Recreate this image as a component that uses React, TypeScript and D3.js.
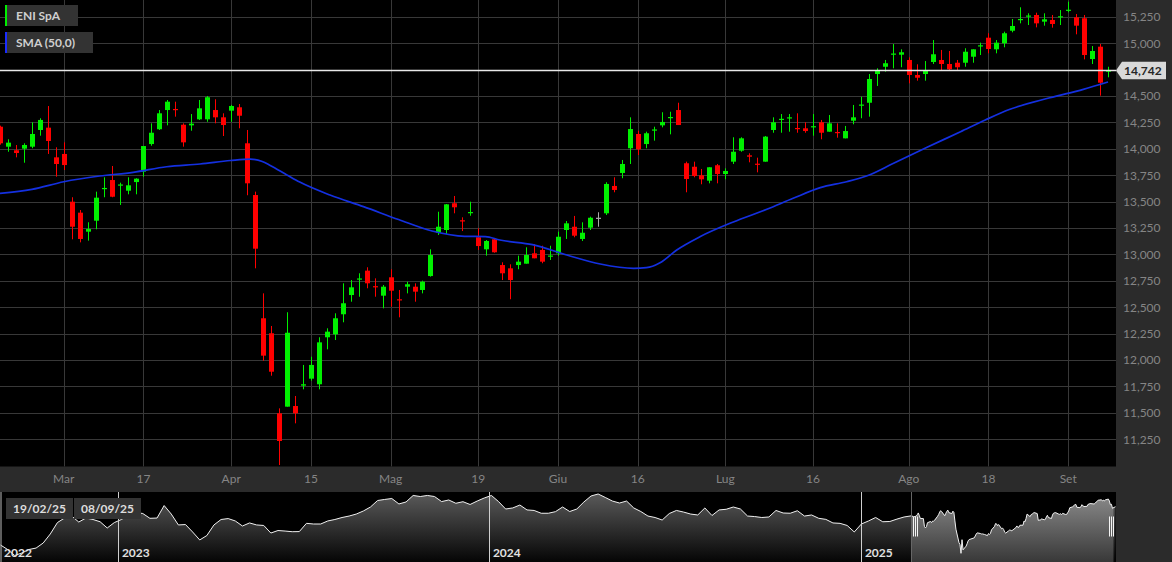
import React from "react";
import * as d3 from "d3";

// ---------- DATA ----------
const startDate = "2025-02-19";
const endDate = "2025-09-08";
const holidays = ["2025-04-18", "2025-04-21", "2025-05-01", "2025-08-15"];

const opens = [
  14.21, 14.021, 13.987, 14.002, 14.021, 14.179, 14.201, 13.92, 13.952, 13.5,
  13.396, 13.216, 13.32, 13.62, 13.705, 13.653, 13.604, 13.686, 13.784, 14.046,
  14.186, 14.368, 14.378, 14.229, 14.223, 14.28, 14.28, 14.368, 14.299, 14.362,
  14.394, 14.053, 13.563, 12.396, 12.254, 11.496, 11.559, 11.565, 11.758, 11.824,
  11.771, 12.216, 12.244, 12.434, 12.616, 12.763, 12.847, 12.7, 12.61, 12.784,
  12.576, 12.695, 12.695, 12.664, 12.796, 13.206, 13.232, 13.485, 13.324, 13.396,
  13.163, 13.049, 13.144, 12.9, 12.869, 12.9, 12.913, 13.011, 13.043, 12.981,
  13.011, 13.232, 13.263, 13.147, 13.254, 13.348, 13.39, 13.649, 13.772, 14.006,
  14.141, 14.046, 14.174, 14.223, 14.293, 14.368, 13.864, 13.831, 13.75, 13.699,
  13.845, 13.762, 13.879, 13.983, 13.939, 13.86, 13.879, 14.179, 14.275, 14.291,
  14.198, 14.195, 14.205, 14.252, 14.163, 14.16, 14.1, 14.267, 14.411, 14.437,
  14.709, 14.778, 14.894, 14.892, 14.842, 14.7, 14.709, 14.823, 14.842, 14.804,
  14.816, 14.816, 14.873, 14.974, 15.053, 14.943, 15.0, 15.119, 15.222, 15.258,
  15.268, 15.205, 15.221, 15.249, 15.312, 15.246, 15.237, 14.851, 14.968, 14.73,
];
const highs = [
  14.22, 14.091, 14.037, 14.053, 14.252, 14.29, 14.406, 14.015, 14.062, 13.542,
  13.421, 13.305, 13.595, 13.731, 13.838, 13.68, 13.731, 13.722, 14.027, 14.242,
  14.368, 14.463, 14.447, 14.242, 14.33, 14.463, 14.501, 14.47, 14.337, 14.416,
  14.425, 14.179, 13.595, 12.632, 12.323, 11.543, 12.453, 11.66, 11.954, 12.032,
  12.216, 12.301, 12.443, 12.727, 12.758, 12.822, 12.879, 12.774, 12.711, 12.86,
  12.664, 12.742, 12.727, 12.752, 13.049, 13.405, 13.478, 13.554, 13.352, 13.5,
  13.248, 13.137, 13.153, 12.926, 12.907, 12.989, 13.068, 13.099, 13.083, 13.083,
  13.216, 13.317, 13.365, 13.305, 13.358, 13.4, 13.684, 13.731, 13.895, 14.299,
  14.172, 14.163, 14.21, 14.347, 14.352, 14.437, 13.879, 13.879, 13.81, 13.826,
  13.857, 13.816, 14.11, 14.11, 13.958, 13.917, 14.122, 14.299, 14.33, 14.33,
  14.337, 14.252, 14.33, 14.274, 14.321, 14.242, 14.217, 14.416, 14.494, 14.709,
  14.763, 14.842, 14.993, 14.943, 14.867, 14.801, 14.832, 15.031, 14.937, 14.927,
  14.842, 14.953, 14.943, 15.006, 15.095, 15.031, 15.11, 15.23, 15.341, 15.284,
  15.29, 15.284, 15.268, 15.315, 15.394, 15.277, 15.268, 14.974, 14.993, 14.778,
];
const lows = [
  14.04, 13.973, 13.92, 13.869, 14.006, 14.125, 13.952, 13.737, 13.8, 13.144,
  13.115, 13.131, 13.239, 13.542, 13.542, 13.469, 13.57, 13.57, 13.737, 14.03,
  14.179, 14.223, 14.305, 14.021, 14.172, 14.274, 14.257, 14.242, 14.122, 14.257,
  14.195, 13.561, 12.869, 11.994, 11.852, 11.006, 11.559, 11.401, 11.723, 11.805,
  11.723, 12.102, 12.19, 12.358, 12.553, 12.6, 12.68, 12.6, 12.49, 12.506,
  12.405, 12.632, 12.553, 12.632, 12.79, 13.185, 13.194, 13.39, 13.222, 13.367,
  13.043, 12.989, 13.017, 12.758, 12.576, 12.86, 12.913, 12.964, 12.917, 12.948,
  12.989, 13.147, 13.163, 13.128, 13.232, 13.263, 13.374, 13.589, 13.722, 13.857,
  13.942, 14.006, 14.078, 14.204, 14.138, 14.226, 13.589, 13.731, 13.665, 13.674,
  13.674, 13.712, 13.857, 13.973, 13.873, 13.778, 13.879, 14.153, 14.153, 14.163,
  14.153, 14.153, 14.125, 14.091, 14.163, 14.106, 14.1, 14.233, 14.29, 14.305,
  14.596, 14.731, 14.763, 14.773, 14.621, 14.646, 14.646, 14.804, 14.747, 14.747,
  14.747, 14.778, 14.816, 14.889, 14.905, 14.905, 14.962, 15.104, 15.189, 15.173,
  15.151, 15.167, 15.148, 15.173, 15.294, 15.085, 14.848, 14.804, 14.504, 14.678,
];
const closes = [
  14.053, 14.059, 13.961, 14.037, 14.141, 14.274, 14.075, 13.857, 13.847, 13.263,
  13.147, 13.241, 13.538, 13.63, 13.547, 13.663, 13.655, 13.718, 14.027, 14.153,
  14.337, 14.447, 14.371, 14.062, 14.239, 14.384, 14.489, 14.299, 14.226, 14.406,
  14.314, 13.674, 13.055, 12.042, 11.89, 11.234, 12.259, 11.496, 11.771, 11.954,
  12.168, 12.269, 12.396, 12.538, 12.689, 12.773, 12.727, 12.692, 12.695, 12.657,
  12.569, 12.718, 12.648, 12.742, 12.995, 13.263, 13.475, 13.447, 13.317, 13.402,
  13.08, 13.128, 13.021, 12.822, 12.758, 12.932, 12.995, 12.964, 12.932, 12.99,
  13.168, 13.295, 13.178, 13.206, 13.348, 13.348, 13.668, 13.611, 13.857, 14.188,
  13.996, 14.148, 14.184, 14.255, 14.302, 14.226, 13.715, 13.743, 13.712, 13.826,
  13.762, 13.791, 13.973, 14.1, 13.926, 13.854, 14.116, 14.252, 14.285, 14.299,
  14.191, 14.169, 14.215, 14.153, 14.242, 14.153, 14.169, 14.299, 14.42, 14.662,
  14.74, 14.811, 14.903, 14.915, 14.7, 14.674, 14.738, 14.896, 14.804, 14.754,
  14.773, 14.92, 14.943, 14.981, 14.946, 15.006, 15.095, 15.164, 15.23, 15.263,
  15.189, 15.227, 15.183, 15.256, 15.318, 15.167, 14.889, 14.927, 14.627, 14.742,
];

// SMA(50): candle index -> value
const smaIdx = [
  0, 4, 8, 12.5, 16.7, 20.9, 25.1, 28.9, 31.4, 32.9, 33.9, 36, 37.6, 41.4, 45.6,
  50, 54.2, 58.3, 60.9, 62.7, 66.8, 71.1, 75.3, 79.5, 81.1, 82.8, 84.9, 87.8, 92,
  96.2, 99.5, 102.9, 106.2, 108.7, 112.1, 116.3, 120.5, 123.6, 126.7, 131.7, 135.9, 139,
];
const smaVal = [
  13.579, 13.617, 13.689, 13.743, 13.778, 13.831, 13.857, 13.89, 13.904, 13.881,
  13.843, 13.753, 13.686, 13.563, 13.453, 13.331, 13.222, 13.172, 13.17, 13.137,
  13.093, 12.995, 12.91, 12.869, 12.875, 12.922, 13.043, 13.168, 13.308, 13.428,
  13.532, 13.633, 13.689, 13.743, 13.864, 14.015, 14.163, 14.274, 14.375, 14.484,
  14.564, 14.633,
];

const yTicks = [
  11.25, 11.5, 11.75, 12.0, 12.25, 12.5, 12.75, 13.0, 13.25, 13.5, 13.75, 14.0,
  14.25, 14.5, 14.75, 15.0, 15.25,
];
const xTickDates = [
  "2025-03-03", "2025-03-17", "2025-04-01", "2025-04-15", "2025-05-02", "2025-05-19",
  "2025-06-02", "2025-06-16", "2025-07-01", "2025-07-16", "2025-08-01", "2025-08-18",
  "2025-09-01",
];
const xTickLabels = ["Mar", "17", "Apr", "15", "Mag", "19", "Giu", "16", "Lug", "16", "Ago", "18", "Set"];

// navigator history: weekly closes starting 2022-09-07
const navHistoryStart = "2022-09-07";
const navWeekly = [
  11.86, 11.52, 11.07, 11.26, 11.52, 11.63, 12.01, 12.69, 13.55, 13.89,
  14.04, 13.59, 13.89, 13.78, 13.61, 13.14, 13.55, 13.78, 14.12, 14.31,
  14.23, 13.87, 13.89, 14.83, 14.19, 13.37, 13.4, 12.84, 12.24, 12.57,
  13.37, 13.78, 13.85, 13.67, 13.29, 13.52, 13.37, 13.33, 12.76, 12.95,
  12.91, 12.86, 12.87, 13.49, 13.44, 13.44, 13.67, 13.78, 13.93, 14.04,
  14.19, 14.42, 14.72, 15.21, 15.29, 15.36, 14.95, 15.1, 15.59, 15.51,
  15.59, 15.51, 15.13, 15.25, 15.0, 15.12, 14.91, 15.17, 15.4, 15.59,
  15.13, 14.57, 14.65, 14.87, 14.5, 14.46, 14.25, 14.25, 14.37, 14.72,
  14.38, 14.57, 15.1, 15.55, 15.7, 15.44, 15.17, 15.02, 15.17, 14.65,
  14.38, 14.04, 13.93, 13.74, 14.23, 14.46, 14.34, 14.19, 14.12, 14.65,
  14.08, 14.5, 14.55, 14.72, 14.57, 14.04, 14.0, 13.93, 13.97, 14.46,
  14.27, 14.25, 14.44, 14.04, 14.12, 13.87, 13.79, 13.52, 13.49, 13.33,
  12.84, 13.44, 13.67, 13.93, 13.61, 13.63, 13.81, 13.97,
];
const navYears = [2023, 2024, 2025];
const seriesName = "ENI SpA";
const smaName = "SMA (50,0)";
const lastPrice = 14.742;

// ---------- HELPERS ----------
const isoFmt = d3.timeFormat("%Y-%m-%d");
const navFmt = d3.timeFormat("%d/%m/%y");
function tradingDays(start: string, end: string, hol: string[]): Date[] {
  const out: Date[] = [];
  const d = new Date(start + "T12:00:00");
  const e = new Date(end + "T12:00:00");
  while (d <= e) {
    const wd = d.getDay();
    if (wd !== 0 && wd !== 6 && !hol.includes(isoFmt(d))) out.push(new Date(d));
    d.setDate(d.getDate() + 1);
  }
  return out;
}
const fmtPrice = (v: number) => d3.format(",.3f")(v).replace(".", ",");

export default function App() {
  const W = 1172;
  const H = 562;
  const plotR = 1116;
  const plotB = 466.5;
  const navT = 492;
  const navB = 562;
  const font = "Lato, 'Open Sans', sans-serif";
  const gridCol = "#383838";
  const panel = "#2b2b2b";
  const up = "#00f000";
  const down = "#ff0000";

  const dates = tradingDays(startDate, endDate, holidays);
  const n = closes.length;

  const x = d3.scaleLinear().domain([0, 140]).range([0, plotR]);
  const y = d3.scaleLinear().domain([10.997, 15.41]).range([466, 0]);

  const tickIdx = xTickDates.map((s) => dates.findIndex((d) => isoFmt(d) === s));

  const smaLine = d3
    .line<number>()
    .x((_, i) => x(smaIdx[i]))
    .y((v) => y(v))
    .curve(d3.curveMonotoneX)(smaVal) as string;

  // navigator
  const histStart = new Date(navHistoryStart + "T12:00:00");
  const navPts: [Date, number][] = navWeekly.map((v, k) => [d3.timeDay.offset(histStart, 7 * k), v]);
  dates.forEach((d, i) => navPts.push([d, closes[i]]));
  const navX = d3.scaleTime().domain([new Date(2022, 8, 7), new Date(2025, 8, 9)]).range([0, plotR]);
  const navY = d3.scaleLinear().domain([10.58, 15.85]).range([navB, navT]);
  const navLine = d3
    .line<[Date, number]>()
    .x((p) => navX(p[0]))
    .y((p) => navY(p[1]))(navPts) as string;
  const navArea = d3
    .area<[Date, number]>()
    .x((p) => navX(p[0]))
    .y0(navB)
    .y1((p) => navY(p[1]))(navPts) as string;
  const selL = navX(dates[0]);
  const selR = navX(dates[n - 1]) - 2;

  const cy = y(lastPrice);
  const bw = 5;

  return (
    <svg
      width={W}
      height={H}
      style={{ position: "absolute", left: 0, top: 0, background: "#000", fontFamily: font }}
    >
      <defs>
        <clipPath id="plotClip">
          <rect x={0} y={0} width={plotR} height={plotB} />
        </clipPath>
        <clipPath id="selClip">
          <rect x={selL} y={navT} width={selR - selL} height={navB - navT} />
        </clipPath>
        <linearGradient id="navDark" x1="0" y1={navT} x2="0" y2={navB} gradientUnits="userSpaceOnUse">
          <stop offset="0" stopColor="#5c5c5c" />
          <stop offset="1" stopColor="#050505" />
        </linearGradient>
        <linearGradient id="navLight" x1="0" y1={navT} x2="0" y2={navB} gradientUnits="userSpaceOnUse">
          <stop offset="0" stopColor="#8e8e8e" />
          <stop offset="1" stopColor="#383838" />
        </linearGradient>
      </defs>

      <rect x={0} y={0} width={W} height={H} fill="#000" />

      {/* grid */}
      <g>
        {yTicks.map((t) => (
          <line key={"gy" + t} x1={0} x2={plotR} y1={Math.round(y(t)) + 0.5} y2={Math.round(y(t)) + 0.5} stroke={gridCol} strokeWidth={1} />
        ))}
        {tickIdx.map((ti, k) => (
          <line key={"gx" + k} x1={Math.round(x(ti)) + 0.5} x2={Math.round(x(ti)) + 0.5} y1={0} y2={plotB} stroke={gridCol} strokeWidth={1} />
        ))}
      </g>

      {/* candles */}
      <g clipPath="url(#plotClip)">
        {closes.map((c, i) => {
          const o = opens[i];
          const col = c > o ? up : c < o ? down : "#aaaaaa";
          const cx = Math.round(x(i)) + 0.5;
          const top = Math.min(y(o), y(c));
          const h = Math.max(Math.abs(y(o) - y(c)), 1.2);
          return (
            <g key={"c" + i}>
              <line x1={cx} x2={cx} y1={y(highs[i])} y2={y(lows[i])} stroke={col} strokeWidth={1} />
              <rect x={cx - bw / 2} y={top} width={bw} height={h} fill={col} />
            </g>
          );
        })}
        <path d={smaLine} fill="none" stroke="#1430e0" strokeWidth={1.7} />
        <line x1={0} x2={plotR} y1={cy} y2={cy} stroke="#e8e8e8" strokeWidth={1.5} />
      </g>

      {/* right axis panel */}
      <rect x={plotR} y={0} width={W - plotR} height={H} fill={panel} />
      {yTicks
        .filter((t) => Math.abs(y(t) - cy) > 12)
        .map((t) => (
          <text key={"yl" + t} x={1123} y={y(t) + 4.3} fill="#858585" fontSize={12}>
            {fmtPrice(t)}
          </text>
        ))}
      <polygon
        points={`${plotR},${cy} ${plotR + 6},${cy - 8.8} ${1166},${cy - 8.8} ${1166},${cy + 8.8} ${plotR + 6},${cy + 8.8}`}
        fill="#d9d9d9"
      />
      <text x={1124} y={cy + 4.4} fill="#262626" fontSize={12} fontWeight="bold">
        {fmtPrice(lastPrice)}
      </text>

      {/* x axis band */}
      <rect x={0} y={plotB} width={plotR} height={navT - plotB} fill={panel} />
      {tickIdx.map((ti, k) => (
        <text key={"xl" + k} x={x(ti)} y={483.3} fill="#858585" fontSize={12} textAnchor="middle">
          {xTickLabels[k]}
        </text>
      ))}

      {/* legend */}
      <g>
        <rect x={5} y={5} width={73} height={21} fill="#333" />
        <rect x={5} y={5} width={2} height={21} fill={up} />
        <text x={16} y={20} fill="#cfcfcf" fontSize={12} fontWeight="bold">
          {seriesName}
        </text>
        <rect x={5} y={32} width={88} height={21} fill="#333" />
        <rect x={5} y={32} width={2} height={21} fill="#1a2cff" />
        <text x={16} y={47} fill="#cfcfcf" fontSize={12} fontWeight="bold">
          {smaName}
        </text>
      </g>

      {/* navigator */}
      <g>
        <rect x={0} y={navT} width={plotR} height={navB - navT} fill="#000" />
        <path d={navArea} fill="url(#navDark)" />
        <path d={navArea} fill="url(#navLight)" clipPath="url(#selClip)" />
        <path d={navLine} fill="none" stroke="#f0f0f0" strokeWidth={1} />
        <line x1={1} x2={1} y1={navT} y2={navB} stroke="#bbb" strokeWidth={1} />
        {navYears.map((yr) => {
          const xx = Math.round(navX(new Date(yr, 0, 1))) + 0.5;
          return <line key={"ys" + yr} x1={xx} x2={xx} y1={navT} y2={navB} stroke="#cfcfcf" strokeWidth={1} />;
        })}
        {[2022, ...navYears].map((yr) => {
          const xx = yr === 2022 ? 4 : navX(new Date(yr, 0, 1)) + 4;
          return (
            <text key={"yt" + yr} x={xx} y={557} fill="#e0e0e0" fontSize={12} fontWeight="bold">
              {yr}
            </text>
          );
        })}
        <line x1={Math.round(selL) + 0.5} x2={Math.round(selL) + 0.5} y1={navT} y2={navB} stroke="#666" strokeWidth={1} />
        {[selL + 2, selR - 4.5].map((hx, k) => (
          <g key={"h" + k}>
            {[0, 2, 4].map((o) => (
              <rect key={o} x={Math.round(hx) + o} y={516.5} width={1} height={20} fill="#f4f4f4" />
            ))}
          </g>
        ))}
        <rect x={6} y={498} width={67} height={21} fill="#333" />
        <text x={39.5} y={513.3} fill="#dddddd" fontSize={12} fontWeight="bold" textAnchor="middle">
          {navFmt(dates[0])}
        </text>
        <rect x={74} y={498} width={67} height={21} fill="#333" />
        <text x={107.5} y={513.3} fill="#dddddd" fontSize={12} fontWeight="bold" textAnchor="middle">
          {navFmt(dates[n - 1])}
        </text>
      </g>
    </svg>
  );
}
